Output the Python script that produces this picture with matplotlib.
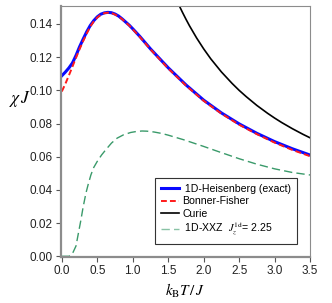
import numpy as np
import matplotlib
matplotlib.use("Agg")
import matplotlib.pyplot as plt

plt.rcParams['font.family'] = ['Liberation Sans', 'DejaVu Sans']
plt.rcParams['mathtext.fontset'] = 'stix'

# values
t_heis = [0.0, 0.05, 0.10, 0.15, 0.20, 0.25, 0.30, 0.35, 0.40, 0.45, 0.50, 0.55, 0.60, 0.65,
          0.70, 0.75, 0.80, 0.85, 0.90, 0.95, 1.0, 1.1, 1.25, 1.5, 1.75, 2.0, 2.25, 2.5,
          2.75, 3.0, 3.25, 3.5]
chi_heis = [0.1088, 0.1110, 0.1135, 0.1165, 0.1210, 0.1262, 0.1308, 0.1352, 0.1390, 0.1420,
            0.1443, 0.1459, 0.1467, 0.1470, 0.1468, 0.1460, 0.1448, 0.1431, 0.1412, 0.1393,
            0.1371, 0.1325, 0.1250, 0.1136, 0.1033, 0.0941, 0.0864, 0.0798, 0.0741, 0.0691,
            0.0648, 0.0610]

t_bf = [0.0, 0.05, 0.10, 0.15, 0.20, 0.25, 0.30, 0.35, 0.40, 0.45, 0.50, 0.55, 0.60, 0.65,
        0.70, 0.75, 0.80, 0.85, 0.90, 0.95, 1.0, 1.1, 1.25, 1.5, 1.75, 2.0, 2.25, 2.5, 2.75,
        3.0, 3.25, 3.5]
chi_bf = [0.0993, 0.1039, 0.1090, 0.1143, 0.1196, 0.1248, 0.1296, 0.1341, 0.1384, 0.1415,
          0.1439, 0.1456, 0.1465, 0.1468, 0.1466, 0.1457, 0.1445, 0.1429, 0.1410, 0.1391,
          0.1368, 0.1322, 0.1247, 0.1132, 0.1029, 0.0937, 0.0860, 0.0793, 0.0736, 0.0685,
          0.0641, 0.0603]

t_curie = [1.65, 1.7, 1.75, 1.8, 1.9, 2.0, 2.1, 2.25, 2.4, 2.5, 2.6, 2.75, 2.9, 3.0, 3.1,
           3.25, 3.4, 3.5]
chi_curie = [0.1515, 0.1471, 0.1429, 0.1389, 0.1316, 0.1250, 0.1190, 0.1111, 0.1042, 0.1000,
             0.0962, 0.0909, 0.0862, 0.0833, 0.0806, 0.0769, 0.0735, 0.0714]

t_xxz = [0.0, 0.10, 0.13, 0.16, 0.20, 0.23, 0.27, 0.30, 0.34, 0.37, 0.41, 0.45, 0.50, 0.56,
         0.62, 0.70, 0.78, 0.87, 0.97, 1.05, 1.13, 1.2, 1.30, 1.4, 1.50, 1.72, 2.0, 2.2, 2.5,
         2.75, 3.0, 3.25, 3.5]
chi_xxz = [0.0, 0.0, 0.0006, 0.0025, 0.0062, 0.0130, 0.0220, 0.0295, 0.0380, 0.0430, 0.0490,
           0.0535, 0.0572, 0.0610, 0.0642, 0.0682, 0.0712, 0.0732, 0.0746, 0.0752, 0.0755,
           0.0754, 0.0749, 0.0741, 0.0730, 0.0702, 0.0662, 0.0632, 0.0588, 0.0555, 0.0527,
           0.0505, 0.0490]

fig = plt.figure(figsize=(3.32, 3.03), dpi=100)
ax = fig.add_axes([0.184, 0.152, 0.750, 0.828])

ax.plot(t_heis, chi_heis, color='#0a0aff', lw=2.2, label=' 1D-Heisenberg (exact)')
ax.plot(t_bf, chi_bf, color='#ff1a1a', lw=1.4, ls=(0, (3, 1.6)), label='Bonner-Fisher')
ax.plot(t_curie, chi_curie, color='black', lw=1.2, label='Curie')
ax.plot(t_xxz, chi_xxz, color='#3a9a6a', lw=1.0, ls=(0, (6, 3)),
        label=' 1D-XXZ  $J_z^{1\\mathrm{d}}$= 2.25')

ax.set_xlim(-0.01, 3.5)
ax.set_ylim(-0.0004, 0.1508)
ax.set_xticks(np.arange(0, 3.51, 0.5))
ax.set_yticks(np.arange(0, 0.141, 0.02))
ax.xaxis.set_major_formatter(matplotlib.ticker.FormatStrFormatter('%.1f'))
ax.yaxis.set_major_formatter(matplotlib.ticker.FormatStrFormatter('%.2f'))

for s in ['left', 'bottom']:
    ax.spines[s].set_color('#8c8c8c')
    ax.spines[s].set_linewidth(1.6)
for s in ['top', 'right']:
    ax.spines[s].set_color('#8c8c8c')
    ax.spines[s].set_linewidth(0.8)
ax.tick_params(direction='out', length=3.5, width=0.8, color='#555555',
               labelsize=8.5, labelcolor='#222222', pad=2.5)

ax.set_xlabel('$k_\\mathrm{B}T\\,/\\,J$', fontsize=11, labelpad=3)
ax.set_ylabel('$\\chi\\,J$', fontsize=12.5, rotation=0, labelpad=4)
ax.yaxis.set_label_coords(-0.165, 0.59)

leg = ax.legend(loc='lower right', bbox_to_anchor=(0.948, 0.052), borderaxespad=0,
                fontsize=7.6, handlelength=1.7, handletextpad=0.35, labelspacing=0.22,
                fancybox=False, framealpha=1, edgecolor='#333333', borderpad=0.55)
leg.get_frame().set_linewidth(0.8)
leg.get_lines()[3].set_alpha(0.6)

fig.savefig('out.png', dpi=100)
